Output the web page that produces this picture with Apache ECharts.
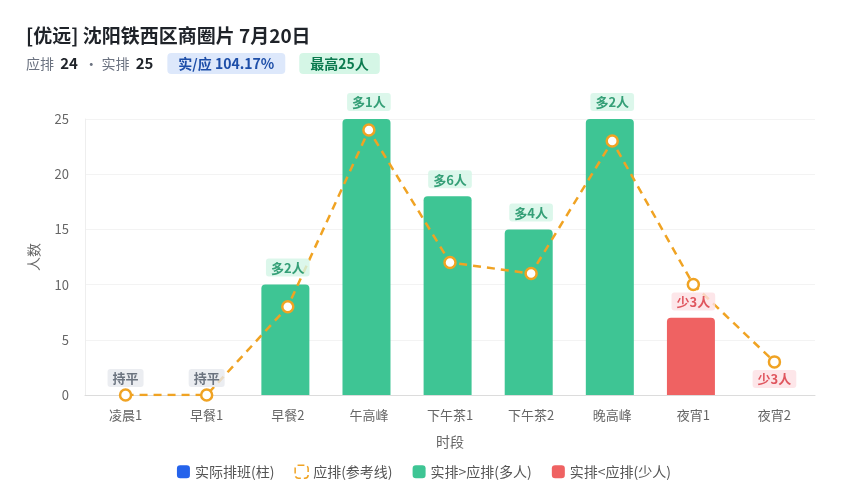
<!DOCTYPE html>
<html>
<head>
<meta charset="utf-8">
<script src="https://cdn.jsdelivr.net/npm/echarts@6/dist/echarts.min.js"></script>
<style>
html, body { margin: 0; padding: 0; background: #fff; }
#main { width: 848px; height: 500px; }
</style>
</head>
<body>
<div id="main"></div>
<script>
var categories = ['凌晨1', '早餐1', '早餐2', '午高峰', '下午茶1', '下午茶2', '晚高峰', '夜宵1', '夜宵2'];
var actualCount = [0, 0, 10, 25, 18, 15, 25, 7, 0];
var plannedCount = [0, 0, 8, 24, 12, 11, 23, 10, 3];
var yTicks = [0, 5, 10, 15, 20, 25];

var font = '"Noto Sans CJK SC", "Noto Sans", sans-serif';
var GREEN = '#3ec594', RED = '#ef6262', ORANGE = '#f0a323';

var myChart = echarts.init(document.getElementById('main'));

// 柱子颜色：多人绿色，少人红色
var barData = actualCount.map(function (v, i) {
    var diff = v - plannedCount[i];
    return { value: v, itemStyle: { color: diff < 0 ? RED : GREEN } };
});

// 差值标签
var labelData = actualCount.map(function (v, i) {
    var diff = v - plannedCount[i];
    var text, bg, color, pos, val;
    if (diff > 0) {
        text = '多' + diff + '人'; bg = '#d3f5e6'; color = '#0b8a5a'; pos = 'top'; val = v;
    } else if (diff < 0) {
        text = '少' + (-diff) + '人'; bg = '#fde0e3'; color = '#d8323c'; pos = 'bottom'; val = plannedCount[i];
    } else {
        text = '持平'; bg = '#e6e8ee'; color = '#4b5563'; pos = 'top'; val = v;
    }
    return {
        value: val,
        label: {
            show: true, formatter: text, position: pos, distance: 8,
            backgroundColor: bg, color: color, fontWeight: 'bold', fontSize: 13,
            fontFamily: font, padding: [3, 5, 2, 5], borderRadius: 3
        }
    };
});

var option = {
    animation: false,
    title: {
        text: '[优远] 沈阳铁西区商圈片 7月20日',
        left: 21,
        top: 21,
        textStyle: { fontSize: 19, fontWeight: 'bold', color: '#1f2329', fontFamily: font },
        subtext: '{g|应排  }{b|24}{g|  · 实排  }{b|25}{s|}{blue|实/应 104.17%}{s|}{green|最高25人}',
        itemGap: 8,
        subtextStyle: {
            fontFamily: font,
            rich: {
                g: { fontSize: 14, color: '#6b7280', fontFamily: font },
                b: { fontSize: 15, color: '#1f2329', fontWeight: 'bold', fontFamily: font },
                s: { width: 14 },
                blue: { fontSize: 14, color: '#1d4ea8', fontWeight: 'bold', backgroundColor: '#dde8fb',
                    padding: [4, 11, 3, 11], borderRadius: 4, fontFamily: font },
                green: { fontSize: 14, color: '#0b7a4f', fontWeight: 'bold', backgroundColor: '#d5f6e6',
                    padding: [4, 11, 3, 11], borderRadius: 4, fontFamily: font }
            }
        }
    },
    legend: {
        bottom: 16,
        left: 'center',
        itemWidth: 13,
        itemHeight: 13,
        itemGap: 20,
        textStyle: { fontSize: 14, color: '#555', fontFamily: font },
        data: [
            { name: '实际排班(柱)', icon: 'roundRect', itemStyle: { color: '#2563eb' } },
            { name: '应排(参考线)', icon: 'roundRect',
                itemStyle: { color: 'transparent', borderColor: ORANGE, borderWidth: 1.5, borderType: 'dashed' } },
            { name: '实排>应排(多人)', icon: 'roundRect', itemStyle: { color: GREEN } },
            { name: '实排<应排(少人)', icon: 'roundRect', itemStyle: { color: RED } }
        ]
    },
    grid: { left: 85, right: 33, top: 119, bottom: 105 },
    xAxis: {
        type: 'category',
        data: categories,
        name: '时段',
        nameLocation: 'middle',
        nameGap: 40,
        nameTextStyle: { fontSize: 14, color: '#666', fontFamily: font },
        axisLine: { lineStyle: { color: '#dcdcdc' } },
        axisTick: { show: false },
        axisLabel: { fontSize: 13, color: '#666', margin: 14, fontFamily: font }
    },
    yAxis: {
        type: 'value',
        min: yTicks[0],
        max: yTicks[yTicks.length - 1],
        interval: yTicks[1] - yTicks[0],
        name: '人数',
        nameLocation: 'middle',
        nameGap: 44,
        nameTextStyle: { fontSize: 14, color: '#666', fontFamily: font },
        axisLine: { show: true, lineStyle: { color: '#eeeeee' } },
        axisLabel: { fontSize: 13, color: '#666', margin: 16, fontFamily: font },
        splitLine: { lineStyle: { color: '#f3f3f3' } }
    },
    series: [
        {
            name: '实际排班(柱)',
            type: 'bar',
            barWidth: 48,
            data: barData,
            itemStyle: { borderRadius: [4, 4, 0, 0] },
            z: 2
        },
        {
            name: '应排(参考线)',
            type: 'line',
            data: plannedCount,
            symbol: 'circle',
            symbolSize: 11,
            lineStyle: { color: ORANGE, width: 2.5, type: [8, 6] },
            itemStyle: { color: '#fff', borderColor: ORANGE, borderWidth: 2.5 },
            z: 3
        },
        { name: '实排>应排(多人)', type: 'bar', data: [] },
        { name: '实排<应排(少人)', type: 'bar', data: [] },
        {
            name: 'diff',
            type: 'scatter',
            symbolSize: 0,
            data: labelData,
            silent: true,
            z: 5
        }
    ]
};

myChart.setOption(option);
</script>
</body>
</html>
